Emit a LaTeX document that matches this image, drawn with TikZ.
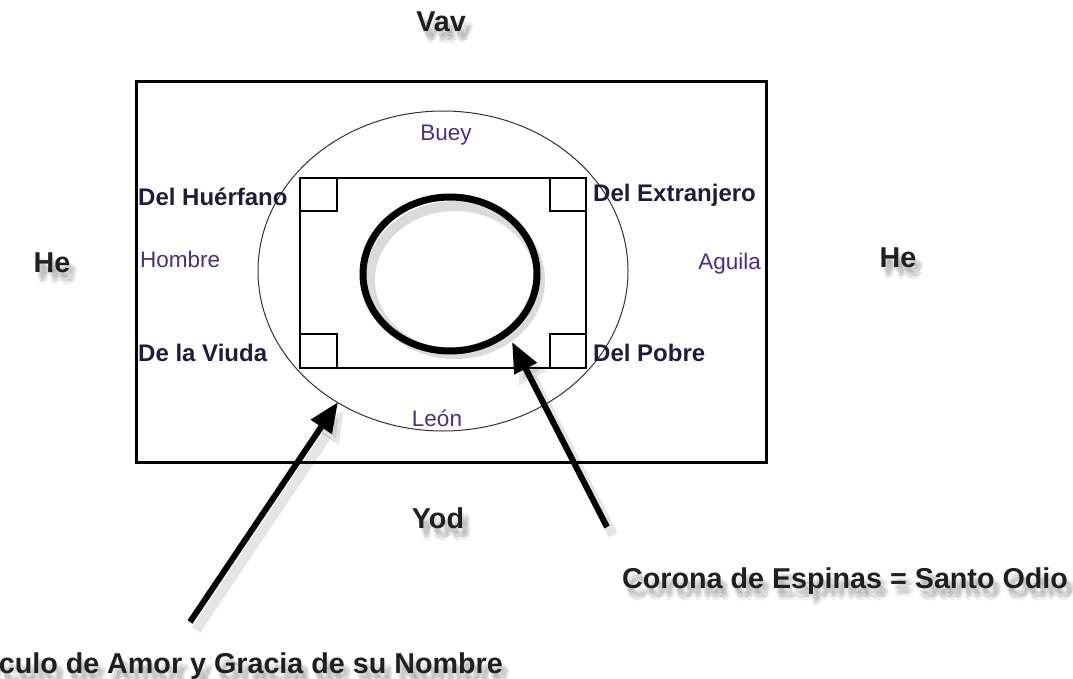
\documentclass[tikz,border=0pt]{standalone}
\usepackage{fontspec}
\setmainfont{Liberation Sans}
\usetikzlibrary{arrows.meta}
\definecolor{purp}{RGB}{75,45,130}
\definecolor{navy}{RGB}{30,30,60}
\begin{document}
\begin{tikzpicture}[x=1pt,y=-1pt,
  big/.style={font=\fontsize{28.7}{30}\selectfont\bfseries, text=black!88, inner sep=0pt},
  bigshadow/.style={big, text=black, opacity=0.06},
  lab/.style={font=\fontsize{24}{26}\selectfont\bfseries, text=navy, inner sep=0pt},
  soft/.style={font=\fontsize{22.5}{24}\selectfont, text=purp, inner sep=0pt},
  frame/.style={draw=black, line width=3pt},
  inner/.style={draw=black, line width=2.5pt},
  corner/.style={draw=black, line width=2.5pt},
  thin/.style={draw=black!80, line width=1pt},
  ring/.style={draw=black, line width=7pt},
  ringshadow/.style={draw=black, line width=10pt, opacity=0.14},
  pointer/.style={draw=black, line width=6pt, -{Triangle[length=30pt,width=24pt]}},
  pointershadow/.style={draw=black, line width=10pt, opacity=0.10, -{Triangle[length=32pt,width=28pt]}}
]
\useasboundingbox (0,0) rectangle (1073,679);
\clip (0,0) rectangle (1073,679);

% outer frame and ellipse
\draw[frame] (136,82) rectangle (766,462);
\draw[thin] (443,271) ellipse [x radius=185, y radius=160];

% inner rectangle and corner squares
\draw[inner] (300,178) rectangle (586,368);
\draw[corner] (300,178) rectangle (337,211);
\draw[corner] (550,178) rectangle (586,211);
\draw[corner] (300,334) rectangle (337,368);
\draw[corner] (550,334) rectangle (586,368);

% crown of thorns ring
\draw[ringshadow] (455,280) ellipse [x radius=85, y radius=74];
\draw[ring] (450,274) ellipse [x radius=87, y radius=77];

% big labels with soft shadows
\foreach \dx/\dy in {2/5,4/7,6/9,3/10,7/6,5/12,8/9} {
  \node[bigshadow, anchor=base] at (441+\dx,32+\dy) {Vav};
  \node[bigshadow, anchor=base] at (52+\dx,272+\dy) {He};
  \node[bigshadow, anchor=base] at (898+\dx,267+\dy) {He};
  \node[bigshadow, anchor=base] at (438+\dx,528+\dy) {Yod};
  \node[bigshadow, anchor=base west] at (622+\dx,588+\dy) {Corona de Espinas = Santo Odio};
  \node[bigshadow, anchor=base east] at (503+\dx,673+\dy) {Círculo de Amor y Gracia de su Nombre};
}
\node[big, anchor=base] (vav) at (441,32) {Vav};
\node[big, anchor=base] (heL) at (52,272) {He};
\node[big, anchor=base] (heR) at (898,267) {He};
\node[big, anchor=base] (yod) at (438,528) {Yod};
\node[big, anchor=base west] (corona) at (622,588) {Corona de Espinas = Santo Odio};
\node[big, anchor=base east] (circulo) at (503,673) {Círculo de Amor y Gracia de su Nombre};

% inner labels
\node[soft, anchor=base] (buey) at (446,141) {Buey};
\node[lab, anchor=base west] (huerfano) at (138,205) {Del Huérfano};
\node[soft, anchor=base west] (hombre) at (140,267) {Hombre};
\node[lab, anchor=base west] (viuda) at (138,361) {De la Viuda};
\node[lab, anchor=base west] (extranjero) at (593,202) {Del Extranjero};
\node[soft, anchor=base east] (aguila) at (761,269) {Aguila};
\node[lab, anchor=base west] (pobre) at (593,361) {Del Pobre};
\node[soft, anchor=base] (leon) at (437,426) {León};

% arrows
\coordinate (a1s) at (190,622);
\coordinate (a1e) at (338,402);
\coordinate (a2s) at (607,527);
\coordinate (a2e) at (512,342);
\draw[pointershadow] ([shift={(6,8)}]a1s) -- ([shift={(6,8)}]a1e);
\draw[pointershadow] ([shift={(6,8)}]a2s) -- ([shift={(6,8)}]a2e);
\draw[pointer] (a1s) -- (a1e);
\draw[pointer] (a2s) -- (a2e);
\end{tikzpicture}
\end{document}
